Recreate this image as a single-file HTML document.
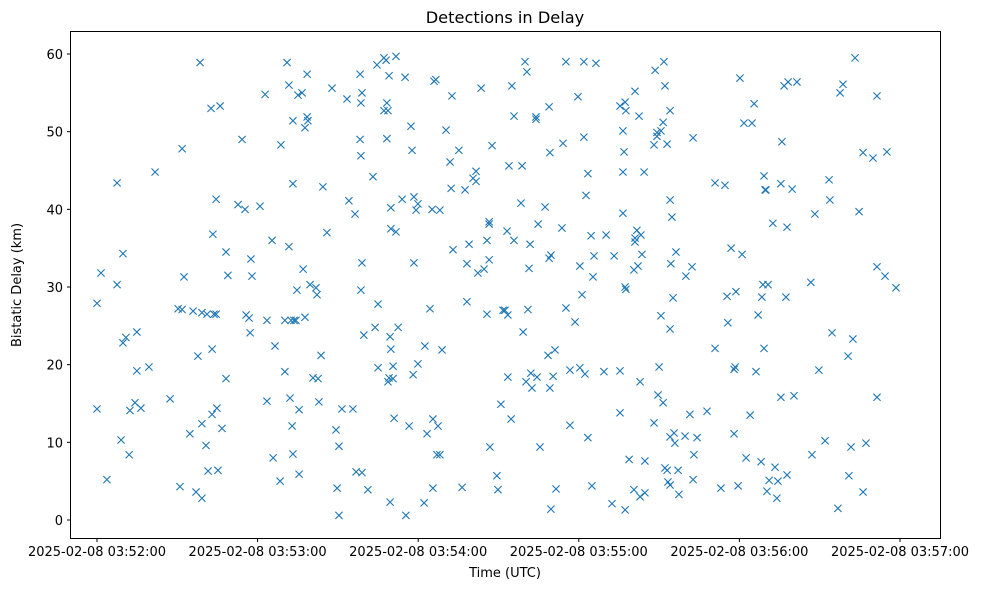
<!DOCTYPE html>
<html>
<head>
<meta charset="utf-8">
<style>
  html, body { margin: 0; padding: 0; background: #ffffff; }
  body { width: 986px; height: 590px; overflow: hidden; }
  svg text { font-family: "DejaVu Sans", "Liberation Sans", sans-serif; fill: #000; }
</style>
</head>
<body>
<svg id="chart" width="986" height="590" viewBox="0 0 986 590" xmlns="http://www.w3.org/2000/svg">
  <rect x="0" y="0" width="986" height="590" fill="#ffffff"></rect>
  <text x="505" y="23" text-anchor="middle" font-size="16.2">Detections in Delay</text>
  <g id="xticks"></g>
  <g id="yticks"></g>
  <g id="points"></g>
  <rect x="70.5" y="31.5" width="870" height="507" fill="none" stroke="#000" stroke-width="1"></rect>
  <text x="505" y="577" text-anchor="middle" font-size="13">Time (UTC)</text>
  <text x="0" y="0" text-anchor="middle" font-size="13" transform="translate(21,285) rotate(-90)">Bistatic Delay (km)</text>
</svg>
<script>
// seconds after 2025-02-08 03:52:00
const times = [
0,0,1.5,3.7,7.5,7.5,9.0,9.7,9.7,10.8,12.0,12.3,
14.2,14.9,14.9,16.4,19.4,21.7,27.3,31.0,30.3,31.8,31.8,32.5,
34.7,35.9,37.0,37.7,38.5,39.2,39.2,39.2,40.7,41.1,41.5,42.6,43.0,43.0,43.3,43.7,44.5,44.5,44.8,45.2,46.0,
46.7,48.2,48.2,48.9,52.7,54.2,55.3,55.7,56.8,57.2,57.5,57.9,
60.9,62.8,63.5,63.5,65.4,65.8,66.5,68.4,68.7,70.2,70.2,71.0,71.7,71.7,72.1,
72.5,72.9,73.2,73.2,73.2,73.6,74.3,74.7,75.1,75.5,75.5,76.6,77.0,77.7,77.7,78.5,78.5,78.8,
79.6,80.7,81.8,82.2,82.6,82.9,83.7,84.4,85.9,
87.8,89.3,89.7,90.4,90.4,91.5,93.4,94.1,
95.6,96.4,96.8,98.3,98.3,98.6,98.6,98.6,99.0,99.0,99.0,99.7,
101.2,103.1,103.9,104.6,105.0,105.0,
107.2,107.2,108.0,108.3,108.3,108.7,109.1,108.7,109.1,109.5,109.8,109.5,109.8,109.8,110.6,110.6,111.0,111.7,111.7,112.5,
114.0,115.1,115.4,116.6,117.3,117.7,118.1,118.4,118.4,119.2,119.9,119.9,122.2,122.5,123.3,
124.4,125.2,125.5,125.5,125.9,126.6,127.0,127.4,128.1,128.1,128.9,
130.4,131.9,132.3,132.6,133.0,135.2,136.4,137.5,138.2,138.2,139.0,140.5,141.6,141.6,142.3,
143.5,144.6,145.7,145.7,146.5,146.5,146.5,146.8,147.6,
149.4,149.8,150.9,151.7,152.4,153.2,153.5,153.5,153.9,154.7,155.0,155.8,155.8,
158.4,158.8,159.2,159.9,160.3,160.6,161.0,161.4,161.8,162.1,162.5,164.0,164.0,164.4,164.8,165.5,
167.4,168.5,168.9,168.9,169.2,169.2,169.6,169.6,170.4,171.1,171.5,173.7,174.1,175.2,175.2,176.7,176.7,
178.6,179.7,180.4,180.4,181.2,181.9,181.9,182.3,182.7,183.4,183.4,184.6,184.9,185.3,185.7,186.4,
189.4,190.2,192.4,193.2,195.4,195.4,195.4,196.5,196.5,196.5,196.9,197.3,197.3,197.6,197.6,197.3,198.8,200.6,200.6,201.0,201.0,201.0,201.7,202.1,202.5,202.9,202.9,203.2,203.6,204.4,204.7,204.7,
208.1,208.1,208.5,209.2,209.2,209.6,210.0,210.7,210.7,211.5,211.5,211.8,212.2,212.2,213.0,213.0,213.3,214.1,214.1,214.1,214.1,214.4,214.1,214.8,215.2,215.6,215.9,216.3,217.1,217.4,
219.7,220.0,221.5,222.3,222.7,222.7,223.0,224.2,
227.9,230.9,230.9,233.1,234.6,235.4,235.7,236.9,238.0,238.0,238.4,238.7,239.5,240.2,241.0,241.7,242.5,244.0,244.7,245.5,246.2,247.0,248.1,248.4,248.8,249.2,249.2,249.6,249.9,250.3,250.7,251.1,252.5,253.3,254.0,254.4,
255.5,255.5,255.9,256.7,257.4,257.8,257.8,258.2,259.7,260.4,261.5,
266.7,267.1,268.2,269.7,272.0,273.5,273.8,274.6,276.8,277.6,278.7,280.6,280.9,281.7,282.4,283.2,284.7,286.2,286.2,287.3,
289.9,291.4,291.4,291.4,294.4,295.1,298.5
];
// bistatic delay in km
const delays = [
27.9,14.3,31.8,5.2,43.4,30.3,10.3,34.3,22.8,23.5,8.4,14.1,
15.1,24.2,19.2,14.4,19.7,44.8,15.6,4.3,27.2,27.1,47.8,31.3,
11.1,26.9,3.6,21.1,58.9,26.7,12.4,2.8,9.6,26.5,6.3,53.0,22.0,13.6,36.8,26.5,26.5,41.3,14.4,6.4,53.3,
11.8,34.5,18.2,31.5,40.6,49.0,40.0,26.4,26.0,24.1,33.6,31.4,
40.4,54.8,25.7,15.3,36.0,8.0,22.4,5.0,48.3,25.7,19.1,58.9,56.0,35.2,15.7,
25.7,12.1,51.4,43.3,8.5,25.7,25.7,29.6,54.7,14.2,5.9,55.0,32.3,50.5,26.1,57.4,51.9,51.4,
30.3,18.3,29.9,29.0,18.2,15.2,21.2,42.9,37.0,
55.6,11.6,4.1,9.5,0.6,14.3,54.2,41.1,
14.3,39.4,6.2,57.4,49.0,53.7,46.9,29.6,6.1,33.1,55.0,23.8,
3.9,44.2,24.8,58.6,27.8,19.6,
52.7,59.5,59.2,53.7,49.1,52.7,57.2,17.8,18.3,2.3,37.5,23.6,22.0,40.2,18.2,19.8,13.1,59.7,37.1,24.8,
41.3,57.0,0.6,12.1,50.7,47.6,18.7,33.1,41.6,39.9,20.1,40.7,2.2,22.4,11.1,
27.2,40.0,4.1,13.0,56.5,56.7,8.4,12.1,39.9,8.4,21.9,
50.2,46.1,42.7,54.6,34.8,47.6,4.2,42.5,28.1,33.0,35.5,44.0,44.9,43.6,31.8,
55.6,32.3,36.0,26.5,38.4,38.1,33.5,9.4,48.2,
5.7,3.9,14.9,27.0,27.0,37.2,18.4,26.4,45.6,13.0,55.9,36.0,52.0,
40.8,45.6,24.2,59.0,17.8,57.7,27.1,32.4,35.5,18.9,17.0,51.9,51.6,18.4,38.1,9.4,
40.3,21.2,33.7,53.2,47.3,17.0,34.1,1.4,18.5,21.9,4.0,37.6,48.5,59.0,27.3,12.2,19.3,
25.5,54.5,32.7,19.6,29.0,59.0,49.3,18.8,41.8,10.6,44.6,36.6,4.4,31.3,34.0,58.8,
19.1,36.7,2.1,34.0,19.2,13.8,53.3,50.1,39.5,44.8,47.4,30.0,53.8,29.7,52.7,1.3,7.8,32.2,3.9,36.3,35.8,55.2,37.3,32.7,52.0,17.8,3.0,36.7,34.2,44.8,7.6,3.5,
48.3,12.5,57.9,49.4,49.9,16.1,19.7,50.1,26.3,15.1,51.2,59.0,6.7,55.9,48.4,6.4,4.9,52.7,24.6,10.7,41.2,33.0,4.5,39.0,28.6,11.2,9.9,34.5,6.4,3.3,
10.8,31.4,13.6,32.6,49.2,5.2,8.4,10.6,
14.0,22.1,43.4,4.1,43.1,28.8,25.4,35.0,11.1,19.4,19.7,29.4,4.4,56.9,34.2,51.1,8.0,13.5,51.1,53.6,19.1,26.4,7.5,28.7,30.3,22.1,44.3,42.5,42.5,3.7,30.3,5.1,38.2,6.8,2.8,5.0,
43.3,15.8,48.7,55.9,28.7,5.8,37.7,56.4,42.6,16.0,56.4,
30.6,8.4,39.4,19.3,10.2,43.8,41.2,24.1,1.5,55.0,56.1,21.1,5.7,9.4,23.3,59.5,39.7,47.3,3.6,9.9,
46.6,54.6,32.6,15.8,31.4,47.4,29.9
];
const xTickSeconds = [0, 60, 120, 180, 240, 300];
const xTickLabels = ["2025-02-08 03:52:00","2025-02-08 03:53:00","2025-02-08 03:54:00","2025-02-08 03:55:00","2025-02-08 03:56:00","2025-02-08 03:57:00"];
const yTickValues = [0, 10, 20, 30, 40, 50, 60];

const NS = "http://www.w3.org/2000/svg";
function xScale(s) { return 97 + s * (160.6 / 60); }
function yScale(k) { return 520 - k * (466 / 60); }

const xg = document.getElementById('xticks');
xTickSeconds.forEach(function (s, i) {
  const x = xScale(s);
  const t = document.createElementNS(NS, 'line');
  t.setAttribute('x1', x); t.setAttribute('x2', x);
  t.setAttribute('y1', 538.5); t.setAttribute('y2', 542);
  t.setAttribute('stroke', '#000');
  
  
  xg.appendChild(t);
  const l = document.createElementNS(NS, 'text');
  l.setAttribute('x', x); l.setAttribute('y', 556);
  l.setAttribute('text-anchor', 'middle');
  l.setAttribute('font-size', '13');
  l.textContent = xTickLabels[i];
  
  
  xg.appendChild(l);
});

const yg = document.getElementById('yticks');
yTickValues.forEach(function (v) {
  const y = yScale(v);
  const t = document.createElementNS(NS, 'line');
  t.setAttribute('x1', 67); t.setAttribute('x2', 70.5);
  t.setAttribute('y1', y); t.setAttribute('y2', y);
  t.setAttribute('stroke', '#000');
  
  
  yg.appendChild(t);
  const l = document.createElementNS(NS, 'text');
  l.setAttribute('x', 63); l.setAttribute('y', y + 5);
  l.setAttribute('text-anchor', 'end');
  l.setAttribute('font-size', '13');
  l.textContent = String(v);
  
  
  yg.appendChild(l);
});

const pg = document.getElementById('points');
const r = 3.6;
times.forEach(function (s, i) {
  const cx = xScale(s), cy = yScale(delays[i]);
  const p = document.createElementNS(NS, 'path');
  p.setAttribute('d', 'M' + (cx - r) + ' ' + (cy - r) + 'L' + (cx + r) + ' ' + (cy + r) + 'M' + (cx - r) + ' ' + (cy + r) + 'L' + (cx + r) + ' ' + (cy - r));
  p.setAttribute('stroke', '#1f77b4');
  p.setAttribute('stroke-width', '1.1');
  p.setAttribute('fill', 'none');
  
  
  pg.appendChild(p);
});
</script>
</body>
</html>
